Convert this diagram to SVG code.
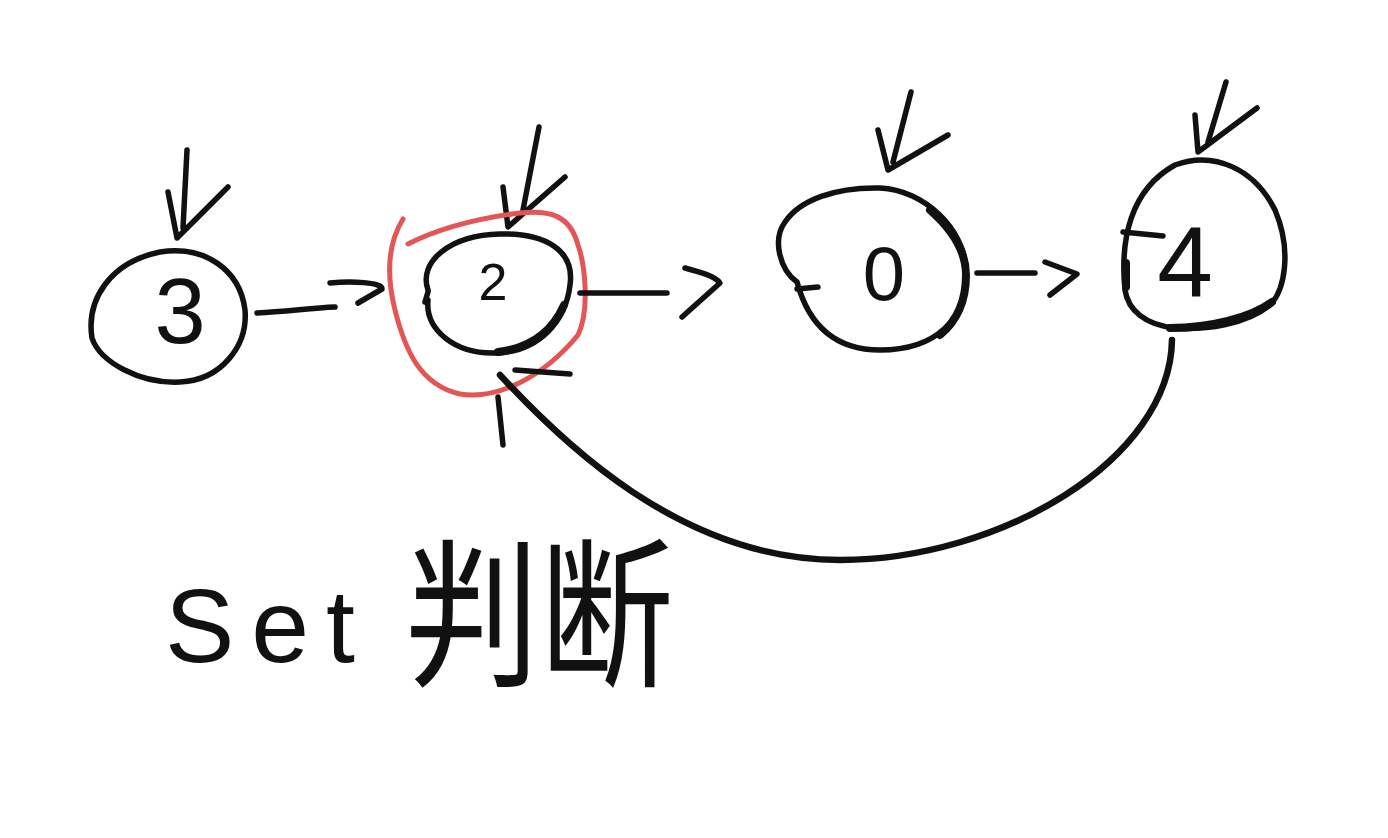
<svg xmlns="http://www.w3.org/2000/svg" width="1388" height="838" viewBox="0 0 1388 838">
  <style>
    .ink{fill:none;stroke:#111;stroke-width:5.5;stroke-linecap:round;stroke-linejoin:round}
    .thick{fill:none;stroke:#111;stroke-width:8;stroke-linecap:round;stroke-linejoin:round}
    .red{fill:none;stroke:#e25656;stroke-width:5;stroke-linecap:round;stroke-linejoin:round}
    .lbl{font-family:"Liberation Sans","Noto Sans CJK SC",sans-serif;fill:#111;text-anchor:middle}
    .big{font-family:"Liberation Sans","Noto Sans CJK SC",sans-serif;fill:#111}
  </style>
  <rect x="0" y="0" width="1388" height="838" fill="#ffffff"/>

  <g id="node-3">
    <path class="ink" d="M92,338 C86,300 110,262 160,252 C205,245 240,270 245,310 C248,345 222,380 180,382 C140,384 100,362 92,338 Z"/>
    <path class="ink" d="M187,150 L183,228 M168,192 L177,238 L228,187"/>
    <text class="lbl" x="180" y="343" font-size="92">3</text>
  </g>

  <g id="node-2">
    <path class="ink" d="M428,290 C418,262 450,235 500,234 C545,233 575,250 570,285 C566,320 540,352 495,353 C455,354 425,330 428,300"/>
    <path class="thick" d="M564,305 C552,332 530,348 498,352"/>
    <path class="ink" d="M428,292 L425,302"/>
    <path class="ink" d="M539,127 L523,210 M503,187 L508,227 L565,177"/>
    <text class="lbl" x="493" y="300" font-size="52">2</text>
    <path class="red" d="M403,219 C390,240 385,270 395,310 C405,350 420,385 460,394 C500,400 545,375 578,335 C590,310 585,265 578,245 C570,215 550,210 520,213 C480,218 440,228 408,244"/>
  </g>

  <g id="node-0">
    <path class="ink" d="M797,282 C780,270 772,240 785,222 C800,200 835,187 880,188 C925,190 965,230 966,270 C968,320 935,350 880,350 C840,350 810,330 797,282"/>
    <path class="thick" d="M930,210 C955,232 966,255 966,275 C966,300 958,320 940,335"/>
    <path class="ink" d="M797,289 L818,287"/>
    <path class="ink" d="M911,92 L893,162 M878,130 L888,170 L948,135"/>
    <text class="lbl" x="884" y="300" font-size="76">0</text>
  </g>

  <g id="node-4">
    <path class="ink" d="M1125,290 C1120,240 1130,190 1175,165 C1215,150 1255,170 1275,210 C1292,250 1285,290 1270,305 C1245,325 1205,330 1175,328 C1145,325 1128,310 1125,290 Z"/>
    <path class="thick" d="M1126,263 L1126,287 M1170,328 C1210,328 1250,318 1272,302"/>
    <path class="ink" d="M1123,232 L1163,236"/>
    <path class="ink" d="M1226,82 L1208,142 M1195,115 L1198,152 L1257,108"/>
    <text class="lbl" x="1185" y="297" font-size="100">4</text>
  </g>

  <g id="connectors">
    <path class="ink" d="M257,313 C285,312 310,308 335,307 M330,283 C350,281 383,282 382,289 L358,303"/>
    <path class="ink" d="M580,293 L667,293 M685,268 C700,272 715,276 720,283 L682,317"/>
    <path class="ink" d="M977,273 L1035,273 M1045,262 L1077,274 L1050,295"/>
    <path class="ink" d="M1172,340 C1170,460 1000,560 840,560 C680,560 560,440 500,375" style="stroke-width:6.5"/>
    <path class="ink" d="M515,370 L570,374 M498,397 L503,445"/>
  </g>

  <g id="label">
    <text class="big" x="165" y="662" font-size="104" textLength="190" lengthAdjust="spacing">Set</text>
    <text class="big" transform="translate(405,674) scale(0.84,1)" x="0" y="0" font-size="160">判断</text>
  </g>
</svg>
